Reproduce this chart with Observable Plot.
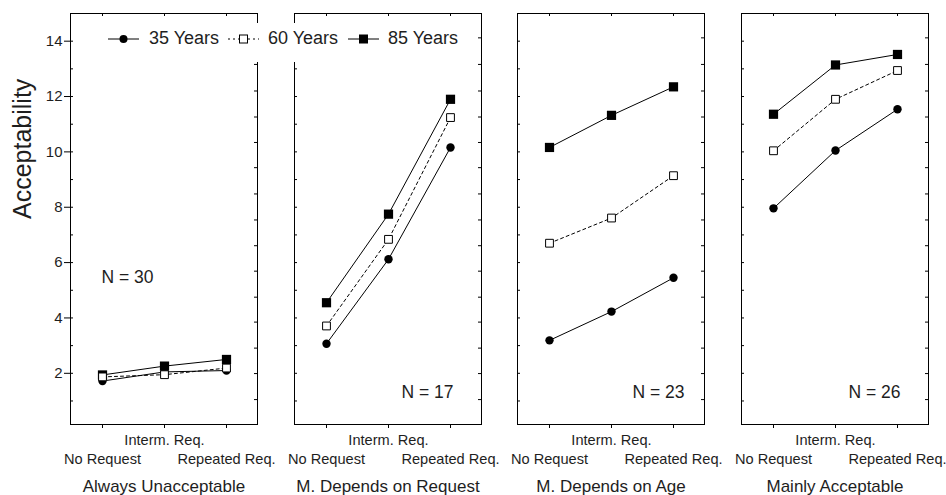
<!DOCTYPE html>
<html>
<head>
<meta charset="utf-8">
<script src="https://cdn.jsdelivr.net/npm/d3@7"></script>
<script src="https://cdn.jsdelivr.net/npm/@observablehq/plot@0.6"></script>
<style>
  body { margin: 0; background: #fff; }
  #chart { position: relative; width: 946px; height: 495px; font-family: "Liberation Sans", Arial, sans-serif; color: #1e1e1e; overflow: hidden; }
  #chart svg.panel { position: absolute; left: 0; top: 0; }
  #legend { position: absolute; left: 105px; top: 23px; width: 358px; height: 39px; background: #fff; }
  #legend .sym { position: absolute; top: 10px; }
  #legend .lab { position: absolute; top: 4px; font-size: 18px; line-height: 22px; white-space: nowrap; }
</style>
</head>
<body>
<div id="chart"></div>
<script>
// ---- data ----
const panels = ["Always Unacceptable", "M. Depends on Request", "M. Depends on Age", "Mainly Acceptable"];
const conditions = ["No Request", "Interm. Req.", "Repeated Req."];
const series = ["35 Years", "60 Years", "85 Years"];
const nCounts = [30, 17, 23, 26];
// values per panel, per condition
const age35 = [[1.72, 2.05, 2.10], [3.07, 6.12, 10.16], [3.19, 4.23, 5.45], [7.96, 10.05, 11.54]];
const age60 = [[1.87, 1.95, 2.19], [3.71, 6.84, 11.24], [6.70, 7.61, 9.14], [10.04, 11.90, 12.94]];
const age85 = [[1.94, 2.26, 2.50], [4.55, 7.75, 11.90], [10.16, 11.32, 12.35], [11.36, 13.14, 13.52]];
const yLabelTicks = [2, 4, 6, 8, 10, 12, 14];
const yMinorTicks = [1, 2, 3, 4, 5, 6, 7, 8, 9, 10, 11, 12, 13, 14];
const rightTicks = [14.12, 13.16, 12.20, 11.26, 10.34, 9.43, 8.48, 7.54, 6.61, 5.69, 4.75, 3.85, 2.91, 1.99, 1.05];
const yLabel = "Acceptability";

// ---- layout ----
const W = 946, H = 495, mTop = 13, frameBottom = 424;
const frameLefts = [70, 294, 517, 741];
const frameW = 187, frameH = frameBottom - mTop;
const ink = "#1e1e1e";
const seriesValues = [age35, age60, age85];

const chart = document.getElementById("chart");

panels.forEach((title, i) => {
  const rows = [];
  series.forEach((s, k) => conditions.forEach((c, j) => rows.push({series: s, cond: c, value: seriesValues[k][i][j]})));
  const bySeries = s => rows.filter(d => d.series === s);
  const L = frameLefts[i], R = L + frameW;

  const marks = [
    Plot.frame({stroke: "#000", strokeWidth: 1}),
    Plot.ruleY(yMinorTicks, {y: d => d, insetRight: frameW - 3, stroke: "#000"}),
    Plot.ruleY(rightTicks, {y: d => d, insetLeft: frameW - 3, stroke: "#000"}),
    Plot.tickX(conditions, {x: d => d, insetBottom: frameH - 3, stroke: "#000"}),
    Plot.axisX({tickSize: 4, tickFormat: () => "", label: null, stroke: "#000"}),
    // lines
    Plot.line(bySeries("35 Years"), {x: "cond", y: "value", stroke: "#000", strokeWidth: 1}),
    Plot.line(bySeries("85 Years"), {x: "cond", y: "value", stroke: "#000", strokeWidth: 1}),
    Plot.line(bySeries("60 Years"), {x: "cond", y: "value", stroke: "#000", strokeWidth: 1, strokeDasharray: "3,3"}),
    // markers
    Plot.dot(bySeries("35 Years"), {x: "cond", y: "value", symbol: "circle", r: 4.2, fill: "#000"}),
    Plot.dot(bySeries("85 Years"), {x: "cond", y: "value", symbol: "square", r: 5.2, fill: "#000"}),
    Plot.dot(bySeries("60 Years"), {x: "cond", y: "value", symbol: "square", r: 4.4, fill: "#fff", stroke: "#000", strokeWidth: 1}),
    // category labels (staggered)
    Plot.text(conditions.filter((c, j) => j === 1), {x: d => d, text: d => d, frameAnchor: "bottom", dy: 16, fontSize: 14.6, fill: ink, lineAnchor: "middle"}),
    Plot.text(conditions.filter((c, j) => j !== 1), {x: d => d, text: d => d, frameAnchor: "bottom", dy: 34.5, fontSize: 14.6, fill: ink, lineAnchor: "middle"}),
    // panel title
    Plot.text([title], {text: d => d, frameAnchor: "bottom", dy: 62, fontSize: 17, fill: ink, lineAnchor: "middle"})
  ];

  if (i === 0) {
    marks.push(Plot.text([nCounts[i]], {x: () => conditions[0], y: () => 5.45, text: d => `N = ${d}`, textAnchor: "start", dx: -1, fontSize: 17.5, fill: ink, lineAnchor: "middle"}));
    marks.push(Plot.axisY({ticks: yLabelTicks, anchor: "left", tickSize: 6, tickPadding: 2, fontSize: 15, label: null, stroke: "#000", fill: ink}));
    marks.push(Plot.text([yLabel], {text: d => d, frameAnchor: "left", dx: -48, rotate: -90, fontSize: 25, fill: ink, lineAnchor: "middle"}));
  } else {
    const dxs = [0, 3, 11, 3];
    marks.push(Plot.text([nCounts[i]], {x: () => conditions[2], y: () => 1.3, text: d => `N = ${d}`, textAnchor: "end", dx: dxs[i], fontSize: 17.5, fill: ink, lineAnchor: "middle"}));
  }

  const svg = Plot.plot({
    width: W, height: H,
    marginLeft: L, marginRight: W - R, marginTop: mTop, marginBottom: H - frameBottom,
    x: {type: "point", domain: conditions, padding: 0.5, axis: null},
    y: {domain: [0.15, 15], axis: null},
    style: {background: "transparent", fontFamily: "'Liberation Sans', Arial, sans-serif", color: ink, overflow: "visible"},
    marks
  });
  svg.classList.add("panel");
  chart.appendChild(svg);
});

// ---- legend ----
const legend = document.createElement("div");
legend.id = "legend";
const legendItems = [
  {label: series[0], symX: 3, textX: 44, dash: null, marker: "circle"},
  {label: series[1], symX: 123, textX: 163, dash: "2,3", marker: "open"},
  {label: series[2], symX: 243, textX: 283, dash: null, marker: "square"}
];
legendItems.forEach(it => {
  const ns = "http://www.w3.org/2000/svg";
  const s = document.createElementNS(ns, "svg");
  s.setAttribute("width", 31); s.setAttribute("height", 12);
  s.setAttribute("class", "sym");
  s.style.left = it.symX + "px";
  const ln = document.createElementNS(ns, "line");
  ln.setAttribute("x1", 0); ln.setAttribute("x2", 31); ln.setAttribute("y1", 6); ln.setAttribute("y2", 6);
  ln.setAttribute("stroke", "#000"); if (it.dash) ln.setAttribute("stroke-dasharray", it.dash);
  s.appendChild(ln);
  let m;
  if (it.marker === "circle") {
    m = document.createElementNS(ns, "circle"); m.setAttribute("cx", 15.5); m.setAttribute("cy", 6); m.setAttribute("r", 4); m.setAttribute("fill", "#000");
  } else {
    m = document.createElementNS(ns, "rect");
    const sz = it.marker === "open" ? 8 : 9;
    m.setAttribute("x", 15.5 - sz / 2); m.setAttribute("y", 6 - sz / 2); m.setAttribute("width", sz); m.setAttribute("height", sz);
    m.setAttribute("fill", it.marker === "open" ? "#fff" : "#000");
    if (it.marker === "open") m.setAttribute("stroke", "#000");
  }
  s.appendChild(m);
  legend.appendChild(s);
  const t = document.createElement("div");
  t.className = "lab"; t.textContent = it.label; t.style.left = it.textX + "px";
  legend.appendChild(t);
});
chart.appendChild(legend);
</script>
</body>
</html>
